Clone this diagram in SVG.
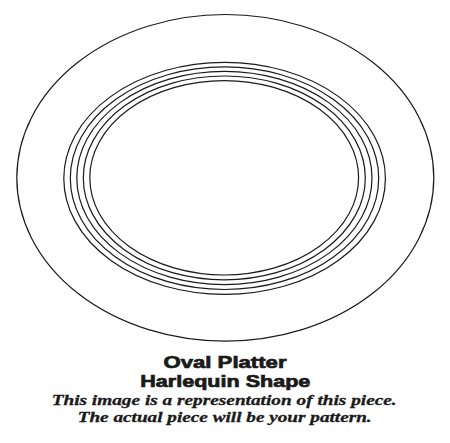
<svg xmlns="http://www.w3.org/2000/svg" width="450" height="443" viewBox="0 0 450 443">
<style>
.ln{fill:none;stroke:#1a1a1a;stroke-width:1.2}
.hd{font-family:"Liberation Sans",Arial,sans-serif;font-weight:bold;font-size:16.5px;fill:#1a1a1a;stroke:#1a1a1a;stroke-width:0.7;text-anchor:middle}
.it{font-family:"Liberation Serif","Times New Roman",serif;font-weight:bold;font-style:italic;font-size:15px;fill:#1a1a1a;stroke:#1a1a1a;stroke-width:0.3;text-anchor:middle}
</style>
<rect width="450" height="443" fill="#fff"/>
<g id="platter">
<ellipse id="rim" class="ln" cx="225.3" cy="177.8" rx="208.5" ry="163.3"/>
<g id="rings">
<ellipse class="ln" cx="224.6" cy="178.4" rx="160.8" ry="116"/>
<ellipse class="ln" cx="224.5" cy="178.2" rx="154.2" ry="111.3"/>
<ellipse class="ln" cx="224.4" cy="178" rx="147.6" ry="106.6"/>
<ellipse class="ln" cx="224.3" cy="177.9" rx="141" ry="101.9"/>
<ellipse class="ln" cx="224.2" cy="177.8" rx="134.4" ry="97.2"/>
</g>
</g>
<g id="caption">
<text class="hd" x="225" y="367.6" textLength="123" lengthAdjust="spacingAndGlyphs">Oval Platter</text>
<text class="hd" x="225.3" y="386.6" textLength="170" lengthAdjust="spacingAndGlyphs">Harlequin Shape</text>
<text class="it" x="224.2" y="405.3" textLength="345" lengthAdjust="spacingAndGlyphs">This image is a representation of this piece.</text>
<text class="it" x="224.7" y="422.3" textLength="294" lengthAdjust="spacingAndGlyphs">The actual piece will be your pattern.</text>
</g>
</svg>
